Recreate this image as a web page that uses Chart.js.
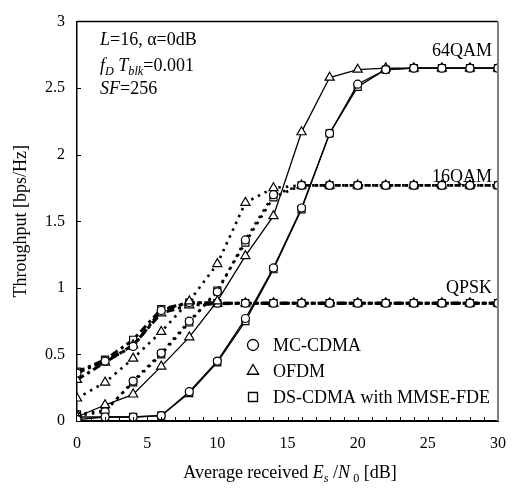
<!DOCTYPE html>
<html><head><meta charset="utf-8">
<script src="https://cdn.jsdelivr.net/npm/chart.js@4/dist/chart.umd.min.js"></script>
<style>html,body{margin:0;padding:0;background:#fff;}#wrap{width:519px;height:488px;}</style>
</head><body><div id="wrap"><canvas id="c" width="519" height="488"></canvas></div>
<script>
// ---- data ----
const snr = [0, 2, 4, 6, 8, 10, 12, 14, 16, 18, 20, 22, 24, 26, 28, 30];
const qam64_mc   = [0.01, 0.03, 0.03, 0.04, 0.22, 0.45, 0.77, 1.15, 1.60, 2.16, 2.53, 2.64, 2.65, 2.65, 2.65, 2.65];
const qam64_ds   = [0.03, 0.03, 0.03, 0.04, 0.21, 0.44, 0.75, 1.14, 1.59, 2.16, 2.51, 2.64, 2.65, 2.65, 2.65, 2.65];
const qam64_ofdm = [0.03, 0.12, 0.20, 0.41, 0.63, 0.90, 1.24, 1.54, 2.17, 2.58, 2.64, 2.65, 2.65, 2.65, 2.65, 2.65];
const qam16_mc   = [0.04, 0.07, 0.30, 0.51, 0.75, 0.97, 1.36, 1.70, 1.77, 1.77, 1.77, 1.77, 1.77, 1.77, 1.77, 1.77];
const qam16_ds   = [0.05, 0.08, 0.29, 0.50, 0.74, 0.98, 1.34, 1.68, 1.77, 1.77, 1.77, 1.77, 1.77, 1.77, 1.77, 1.77];
const qam16_ofdm = [0.17, 0.29, 0.47, 0.67, 0.90, 1.18, 1.64, 1.75, 1.77, 1.77, 1.77, 1.77, 1.77, 1.77, 1.77, 1.77];
const qpsk_mc    = [0.36, 0.45, 0.56, 0.83, 0.89, 0.885, 0.885, 0.885, 0.885, 0.885, 0.885, 0.885, 0.885, 0.885, 0.885, 0.885];
const qpsk_ds    = [0.37, 0.46, 0.61, 0.84, 0.89, 0.885, 0.885, 0.885, 0.885, 0.885, 0.885, 0.885, 0.885, 0.885, 0.885, 0.885];
const qpsk_ofdm  = [0.31, 0.44, 0.57, 0.81, 0.87, 0.88, 0.885, 0.885, 0.885, 0.885, 0.885, 0.885, 0.885, 0.885, 0.885, 0.885];
const xTickValues = [0, 5, 10, 15, 20, 25, 30];
const yTickValues = [0, 0.5, 1, 1.5, 2, 2.5, 3];
const legendNames = ['MC-CDMA', 'OFDM', 'DS-CDMA with MMSE-FDE'];
const modLabels = [{text: '64QAM', value: 2.65}, {text: '16QAM', value: 1.77}, {text: 'QPSK', value: 0.885}];

const SERIF = '"Liberation Serif", "Times New Roman", serif';
const toPts = arr => arr.map((v, i) => ({x: snr[i], y: v}));
const styleOf = {mc: 'circle', ofdm: 'triangle', ds: 'rect'};
const radiusOf = {mc: 4, ofdm: 5.3, ds: 5};
const lineOf = {
  '64': {w: 1.3, dash: []},
  '16': {w: 2.6, dash: [2.5, 5]},
  'q':  {w: 3, dash: [8, 4, 3, 4]}
};
function ds(arr, mod, sch) {
  return {
    data: toPts(arr), borderColor: '#000', borderWidth: lineOf[mod].w, borderDash: lineOf[mod].dash,
    pointStyle: styleOf[sch], pointRadius: radiusOf[sch], pointBackgroundColor: '#fff',
    pointBorderColor: '#000', pointBorderWidth: 1.2, tension: 0, fill: false
  };
}

function drawRich(ctx, segs, x, y, size, align) {
  const widths = segs.map(s => {
    ctx.font = (s.it ? 'italic ' : '') + (s.sub ? size * 0.68 : size) + 'px ' + SERIF;
    return ctx.measureText(s.t).width;
  });
  const total = widths.reduce((a, b) => a + b, 0);
  let cx = align === 'center' ? x - total / 2 : (align === 'right' ? x - total : x);
  ctx.textAlign = 'left'; ctx.textBaseline = 'alphabetic'; ctx.fillStyle = '#000';
  segs.forEach((s, i) => {
    ctx.font = (s.it ? 'italic ' : '') + (s.sub ? size * 0.68 : size) + 'px ' + SERIF;
    ctx.fillText(s.t, cx, s.sub ? y + size * 0.22 : y);
    cx += widths[i];
  });
}

function marker(ctx, style, x, y, r) {
  ctx.beginPath();
  if (style === 'circle') ctx.arc(x, y, r, 0, Math.PI * 2);
  else if (style === 'triangle') {
    for (let k = 0; k < 3; k++) {
      const a = k * 2 * Math.PI / 3;
      const px = x + Math.sin(a) * r, py = y - Math.cos(a) * r;
      k === 0 ? ctx.moveTo(px, py) : ctx.lineTo(px, py);
    }
    ctx.closePath();
  } else ctx.rect(x - r, y - r, 2 * r, 2 * r);
  ctx.fillStyle = '#fff'; ctx.fill();
  ctx.strokeStyle = '#000'; ctx.lineWidth = 1.3; ctx.stroke();
}

const deco = {
  id: 'deco',
  afterDraw(chart) {
    const ctx = chart.ctx, a = chart.chartArea, xs = chart.scales.x, ys = chart.scales.y;
    ctx.save();
    ctx.strokeStyle = '#000'; ctx.lineWidth = 1.5;
    ctx.beginPath(); ctx.moveTo(a.left, a.top); ctx.lineTo(a.right, a.top); ctx.stroke();
    ctx.strokeStyle = '#808080'; ctx.lineWidth = 2;
    ctx.beginPath(); ctx.moveTo(a.right, a.top); ctx.lineTo(a.right, a.bottom); ctx.stroke();
    ctx.strokeStyle = '#000'; ctx.lineWidth = 1;
    for (let v = 1; v < 30; v++) {
      const px = Math.round(xs.getPixelForValue(v)) + 0.5;
      ctx.beginPath(); ctx.moveTo(px, a.bottom); ctx.lineTo(px, a.bottom - 4); ctx.stroke();
    }
    yTickValues.forEach(v => {
      if (v === 0 || v === 3) return;
      const py = Math.round(ys.getPixelForValue(v)) + 0.5;
      ctx.beginPath(); ctx.moveTo(a.left, py); ctx.lineTo(a.left + 4, py); ctx.stroke();
    });
    drawRich(ctx, [{t: 'L', it: 1}, {t: '=16, α=0dB'}], 100, 45, 18);
    drawRich(ctx, [{t: 'f', it: 1}, {t: 'D', it: 1, sub: 1}, {t: ' T', it: 1}, {t: 'blk', it: 1, sub: 1}, {t: '=0.001'}], 100, 71, 18);
    drawRich(ctx, [{t: 'SF', it: 1}, {t: '=256'}], 100, 94, 18);
    const offs = [-12, -3, -10];
    modLabels.forEach((m, i) => {
      drawRich(ctx, [{t: m.text}], 492, ys.getPixelForValue(m.value) + offs[i], 18, 'right');
    });
    const styles = ['circle', 'triangle', 'rect'];
    const rr = [5.5, 6.5, 4.5];
    legendNames.forEach((n, i) => {
      const y = 345 + i * 26;
      marker(ctx, styles[i], 253, y, rr[i]);
      ctx.font = '18px ' + SERIF; ctx.fillStyle = '#000'; ctx.textAlign = 'left'; ctx.textBaseline = 'middle';
      ctx.fillText(n, 273, y + 1);
    });
    drawRich(ctx, [{t: 'Average received '}, {t: 'E', it: 1}, {t: 's', it: 1, sub: 1}, {t: ' /'}, {t: 'N', it: 1}, {t: ' 0', sub: 1}, {t: ' [dB]'}], 290, 478, 18, 'center');
    ctx.save();
    ctx.translate(26, (a.top + a.bottom) / 2);
    ctx.rotate(-Math.PI / 2);
    drawRich(ctx, [{t: 'Throughput [bps/Hz]'}], 0, 0, 18, 'center');
    ctx.restore();
    ctx.restore();
  }
};

new Chart(document.getElementById('c'), {
  type: 'line',
  data: {
    datasets: [
      ds(qam64_mc, '64', 'mc'), ds(qam64_ofdm, '64', 'ofdm'), ds(qam64_ds, '64', 'ds'),
      ds(qam16_mc, '16', 'mc'), ds(qam16_ofdm, '16', 'ofdm'), ds(qam16_ds, '16', 'ds'),
      ds(qpsk_mc, 'q', 'mc'), ds(qpsk_ofdm, 'q', 'ofdm'), ds(qpsk_ds, 'q', 'ds')
    ]
  },
  options: {
    responsive: false, animation: false, devicePixelRatio: 1,
    layout: {padding: {left: 0, right: 17, top: 15, bottom: 0}},
    plugins: {legend: {display: false}, tooltip: {enabled: false}},
    scales: {
      x: {
        type: 'linear', min: 0, max: 30,
        afterBuildTicks: s => { s.ticks = xTickValues.map(v => ({value: v})); },
        afterFit: s => { s.height = 67; },
        ticks: {color: '#000', font: {family: SERIF, size: 16}, padding: 13, maxRotation: 0, autoSkip: false,
                callback: v => String(v)},
        grid: {display: false, drawTicks: false},
        border: {display: true, color: '#000', width: 2}
      },
      y: {
        min: 0, max: 3,
        afterBuildTicks: s => { s.ticks = yTickValues.map(v => ({value: v})); },
        afterFit: s => { s.width = 77; },
        ticks: {color: '#000', font: {family: SERIF, size: 16}, padding: 12, callback: v => String(v)},
        grid: {display: false, drawTicks: false},
        border: {display: true, color: '#000', width: 1.5}
      }
    }
  },
  plugins: [deco]
});
</script></body></html>
